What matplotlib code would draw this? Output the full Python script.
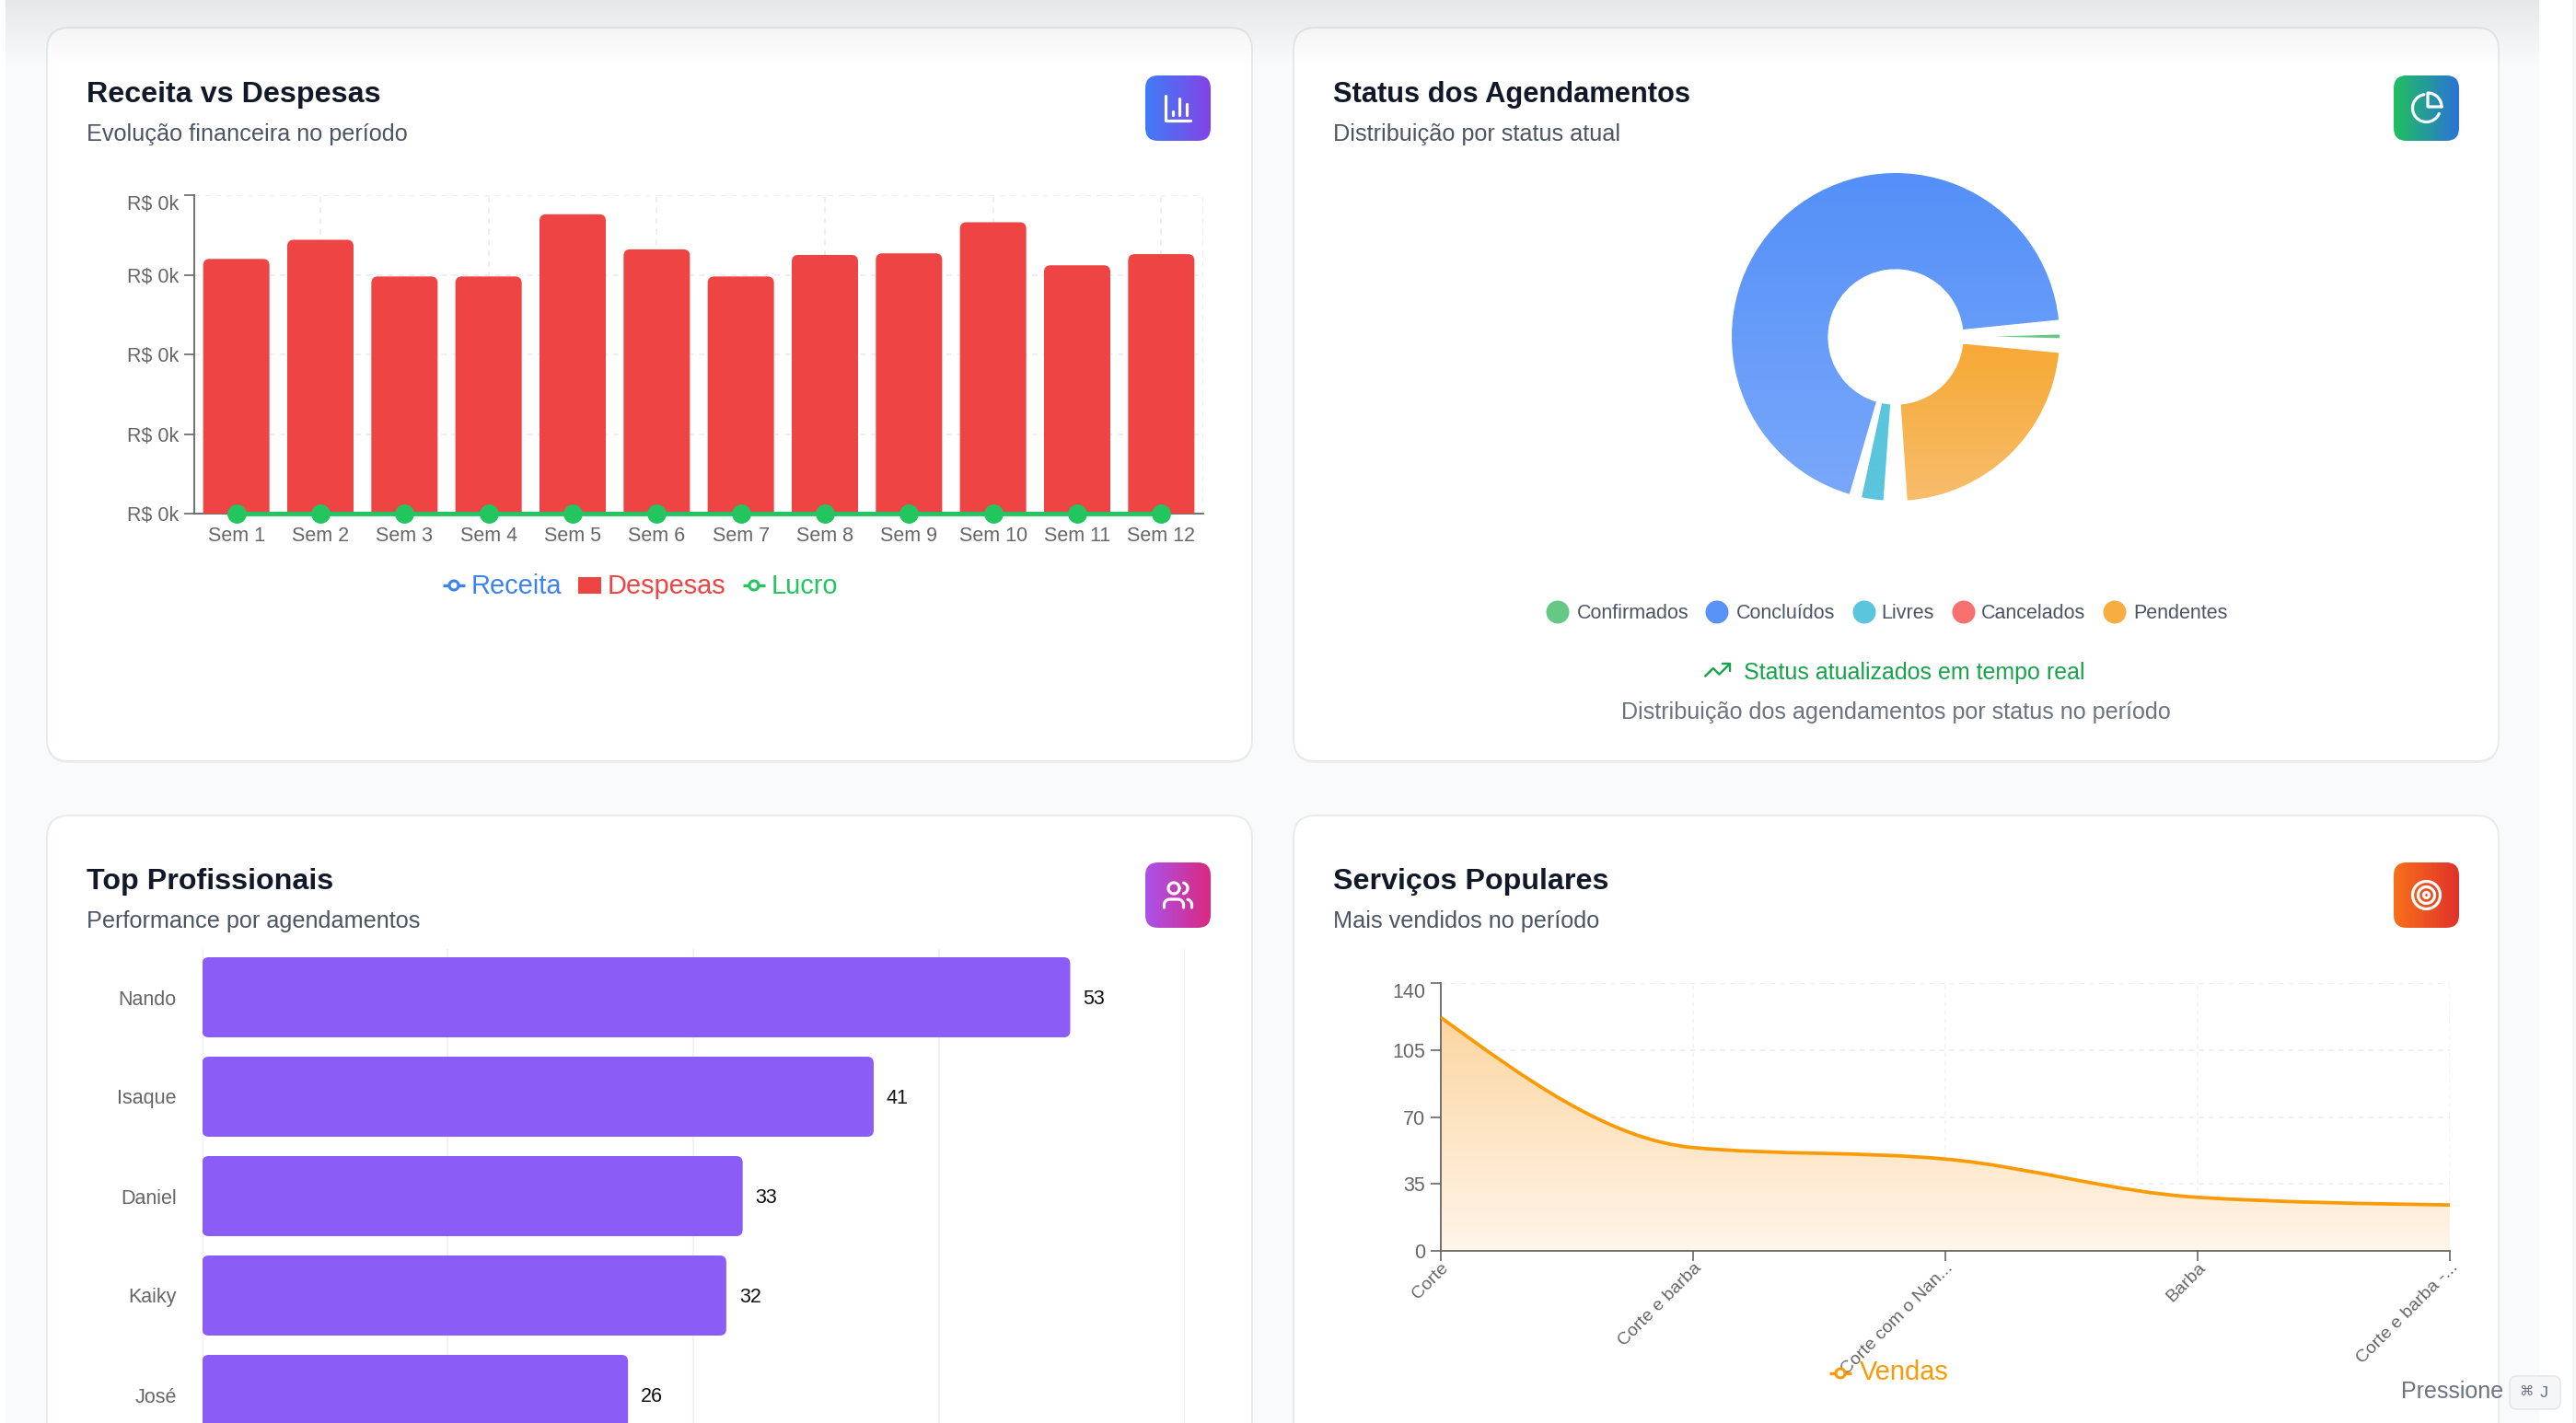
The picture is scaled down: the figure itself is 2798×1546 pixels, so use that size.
import numpy as np
import matplotlib
matplotlib.use("Agg")
import matplotlib.pyplot as plt
from matplotlib.colors import LinearSegmentedColormap
from matplotlib.patches import FancyBboxPatch, Wedge, PathPatch, Circle, Rectangle
from matplotlib.path import Path
from matplotlib.ticker import FuncFormatter, FixedLocator

plt.rcParams['font.family'] = ['Liberation Sans', 'DejaVu Sans']

W, H = 2798, 1546

# Receita vs Despesas
weeks = ['Sem 1', 'Sem 2', 'Sem 3', 'Sem 4', 'Sem 5', 'Sem 6',
         'Sem 7', 'Sem 8', 'Sem 9', 'Sem 10', 'Sem 11', 'Sem 12']
despesas = [320, 344, 298, 298, 376, 332, 298, 325, 327, 366, 312, 326]
receita = [0] * 12
lucro = [0] * 12

# Status dos Agendamentos
status_names = ['Confirmados', 'Concluídos', 'Livres', 'Cancelados', 'Pendentes']
status_values = [3.2, 249.0, 8.1, 0, 81]
status_colors = ['#65c985', '#5a93f8', '#5ac5dd', '#f87171', '#f7ad42']

# Top Profissionais
pros = ['Nando', 'Isaque', 'Daniel', 'Kaiky', 'José']
pro_values = [53, 41, 33, 32, 26]

# Serviços Populares
services = ['Corte', 'Corte e barba', 'Corte com o Nan...', 'Barba', 'Corte e barba -...']
sales = [122, 54, 48, 28, 24]

TICK = '#666666'
GRID = '#eeeeee'
ORANGE = '#fa9a05'
TXT_TITLE = '#111827'
TXT_SUB = '#4b5563'

fig = plt.figure(figsize=(W / 100, H / 100), dpi=100, facecolor='white')


def axes_px(x0, y0, x1, y1, z=1):
    ax = fig.add_axes([x0 / W, 1 - y1 / H, (x1 - x0) / W, (y1 - y0) / H], zorder=z)
    ax.patch.set_visible(False)
    return ax


def gradient(ax, extent, c0, c1, clip=None, vertical=False, z=2):
    # extent is left, right, top, bottom as seen on screen
    cmap = LinearSegmentedColormap.from_list('g', [c0, c1])
    ramp = np.linspace(0, 1, 256)
    ramp = ramp[:, None] if vertical else ramp[None, :]
    x0, x1, top, bottom = extent
    im = ax.imshow(ramp, cmap=cmap, extent=(x0, x1, bottom, top), origin='upper', aspect='auto',
                   interpolation='bilinear', zorder=z)
    if clip is not None:
        im.set_clip_path(clip)
    return im


# page, cards and text live in pixel coordinates
bg = axes_px(0, 0, W, H, z=0)
bg.set_xlim(0, W)
bg.set_ylim(H, 0)
bg.set_autoscale_on(False)
bg.axis('off')
bg.add_patch(Rectangle((6, 0), 2752, H, fc='#f9fafb', ec='none', zorder=0))
bg.add_patch(Rectangle((2794, 0), 4, H, fc='#f4f5f6', ec='none', zorder=0))

for x0, y0, x1, y1 in [(51, 30, 1360, 827), (1405, 30, 2714, 827),
                       (51, 886, 1360, 1640), (1405, 886, 2714, 1640)]:
    # soft shadow first, then the card itself
    bg.add_patch(FancyBboxPatch((x0, y0 + 2), x1 - x0, y1 - y0, boxstyle='round,pad=0,rounding_size=24',
                                fc='#eceef1', ec='none', zorder=1))
    bg.add_patch(FancyBboxPatch((x0, y0), x1 - x0, y1 - y0, boxstyle='round,pad=0,rounding_size=24',
                                fc='white', ec='#e8eaed', lw=1.4, zorder=1))

heads = [(94, 103, 146, 'Receita vs Despesas', 'Evolução financeira no período', 23.2),
         (1448, 103, 146, 'Status dos Agendamentos', 'Distribuição por status atual', 22.2),
         (94, 958, 1001, 'Top Profissionais', 'Performance por agendamentos', 23.2),
         (1448, 958, 1001, 'Serviços Populares', 'Mais vendidos no período', 23.2)]
for x, yt, ys, title, sub, size in heads:
    bg.text(x, yt, title, fontsize=size, fontweight='bold', color=TXT_TITLE, va='center', ha='left')
    bg.text(x, ys, sub, fontsize=18.2, color=TXT_SUB, va='center', ha='left')


# overlay for legends, icons and the top shadow
ov = axes_px(0, 0, W, H, z=5)
ov.set_xlim(0, W)
ov.set_ylim(H, 0)
ov.set_autoscale_on(False)
ov.axis('off')


def icon_base(x, y, c0, c1):
    box = FancyBboxPatch((x, y), 71, 71, boxstyle='round,pad=0,rounding_size=14', fc='none', ec='none')
    ov.add_patch(box)
    gradient(ov, (x, x + 71, y, y + 71), c0, c1, clip=box)


def arc(cx, cy, r, a0, a1, n=40):
    a = np.radians(np.linspace(a0, a1, n))
    return list(zip(cx + r * np.cos(a), cy + r * np.sin(a)))


def stroke(pts, x, y, s=1.5, color='white', lw=2.3):
    # pts on a 24 unit icon grid, x/y is the grid origin
    p = np.array(pts)
    ov.plot(x + p[:, 0] * s, y + p[:, 1] * s, color=color, lw=lw, solid_capstyle='round',
            solid_joinstyle='round', zorder=6)


ICON = 18  # inset of the 36 px glyph inside the 71 px badge
icon_base(1244, 82, '#3f7cf6', '#8344e6')
ix, iy = 1244 + ICON - 0.5, 82 + ICON - 0.5
stroke([(3, 3), (3, 21), (21, 21)], ix, iy)
stroke([(8, 14), (8, 17)], ix, iy)
stroke([(13, 5), (13, 17)], ix, iy)
stroke([(18, 9), (18, 17)], ix, iy)

icon_base(2600, 82, '#20c05f', '#2b72d8')
ix, iy = 2600 + ICON - 0.5, 82 + ICON - 0.5
stroke(arc(12, 12, 10, 23, 260), ix, iy)
stroke(arc(12, 12, 10, 0, -90) + [(12, 12), (22, 12)], ix + 1.5, iy - 1.5)

icon_base(1244, 937, '#ab52ec', '#d9297f')
ix, iy = 1244 + ICON - 0.5, 937 + ICON - 0.5
stroke([(16, 21)] + arc(12, 19, 4, 0, -90) + arc(6, 19, 4, -90, -180) + [(2, 21)], ix, iy)
stroke(arc(9, 7, 4, 0, 360), ix, iy)
stroke([(22, 21)] + arc(18, 19, 4, 0, -75), ix, iy)
stroke(arc(15, 7, 4, -75, 75), ix, iy)

icon_base(2600, 937, '#f8701b', '#e0322a')
ix, iy = 2600 + ICON - 0.5, 937 + ICON - 0.5
for r in (10, 6, 2):
    stroke(arc(12, 12, r, 0, 360), ix, iy)


def line_key(x, y, color):
    ov.plot([x, x + 24], [y, y], color=color, lw=2.4, zorder=6, solid_capstyle='butt')
    ov.add_patch(Circle((x + 12, y), 5, fc='white', ec=color, lw=2.2, zorder=7))


# ---- Receita vs Despesas
ax = axes_px(211, 212, 1307, 558.5)
ax.set_xlim(-0.5, 11.5)
ax.set_ylim(0, 400)
ppx = 12 / (1307 - 211)     # data x per pixel
ppy = 400 / (558.5 - 212)   # data y per pixel
bar_w = 72 * ppx
for i, v in enumerate(despesas):
    # rounded bottom falls below the axis and gets clipped away
    ax.add_patch(FancyBboxPatch((i - bar_w / 2, -40), bar_w, v + 40,
                                boxstyle=f'round,pad=0,rounding_size={7 * ppx}',
                                mutation_aspect=ppy / ppx, fc='#ef4444', ec='none', zorder=3))
ax.plot(range(12), receita, color='#3b82f6', lw=3, zorder=4, clip_on=False)
ax.plot(range(12), lucro, color='#22c55e', lw=3.5, marker='o', ms=14, zorder=5, clip_on=False)
ax.set_yticks([0, 100, 200, 300, 400])
ax.yaxis.set_major_formatter(FuncFormatter(lambda v, p: f'R$ {v / 1000:.0f}k'))
ax.set_xticks(range(12))
ax.set_xticklabels(weeks)
ax.yaxis.grid(True, color=GRID, ls=(0, (3, 3)), lw=1.4, zorder=0)
# vertical grid only shows on every other week
for gx in list(range(1, 12, 2)) + [11.5]:
    ax.axvline(gx, color=GRID, ls=(0, (3, 3)), lw=1.4, zorder=0)
ax.set_axisbelow(True)
for s in ('top', 'right'):
    ax.spines[s].set_visible(False)
for s in ('left', 'bottom'):
    ax.spines[s].set_color(TICK)
    ax.spines[s].set_linewidth(1.3)
ax.tick_params(axis='both', colors=TICK, labelsize=15.5, length=8, width=1.2, pad=4)
ax.tick_params(axis='x', length=6, pad=4, labelcolor='#666666')
ax.get_yticklabels()[-1].set_verticalalignment('top')

line_key(481, 636, '#3b82f6')
ov.text(512, 637, 'Receita', fontsize=20.9, color='#3b82f6', va='center')
ov.add_patch(Rectangle((628, 627), 25, 18, fc='#ef4444', ec='none', zorder=6))
ov.text(660, 637, 'Despesas', fontsize=20.9, color='#ef4444', va='center')
line_key(807, 636, '#22c55e')
ov.text(838, 637, 'Lucro', fontsize=20.9, color='#22c55e', va='center')

# ---- Status dos Agendamentos
pie = axes_px(1859, 166, 2259, 566)
pie.set_xlim(-200, 200)
pie.set_ylim(-200, 200)
pie.set_autoscale_on(False)
pie.axis('off')
R_OUT, R_IN = 178, 73
PAD = 4.0
scale = (360 - PAD * len(status_values)) / sum(status_values)
angle = -1.4
wedge_grad = {1: ('#5490f8', '#7aa8fb', 178, -178),
              2: ('#5ac5dd', '#5ac5dd', -60, -178),
              4: ('#f6a935', '#f8bd6c', -8, -178)}
for i, v in enumerate(status_values):
    sweep = v * scale
    if v > 0:
        w = Wedge((0, 0), R_OUT, angle, angle + sweep, width=R_OUT - R_IN, fc='none', ec='none')
        pie.add_patch(w)
        if i in wedge_grad:
            c0, c1, top, bottom = wedge_grad[i]
            gradient(pie, (-200, 200, top, bottom), c0, c1, clip=w, vertical=True)
        else:
            w.set_facecolor(status_colors[i])
        # the sliver keeps only its outer tip once the white stroke is on it
        pie.add_patch(Wedge((0, 0), R_OUT + 3, angle, angle + sweep, width=R_OUT + 3 - R_IN,
                            fc='none', ec='white', lw=4.3 if i == 0 else 0.9, zorder=4))
    angle += sweep + PAD

key_x = [1692, 1865, 2025, 2133, 2297]
label_x = [1713, 1886, 2043, 2152, 2317]
for name, color, kx, lx in zip(status_names, status_colors, key_x, label_x):
    ov.add_patch(Circle((kx, 665), 12.5, fc=color, ec='none', zorder=6))
    ov.text(lx, 667, name, fontsize=15.5, color='#4b5563', va='center')

p = [(2, 17), (8.5, 10.5), (13.5, 15.5), (22, 7)]
stroke(p, 1849.5, 712, s=1.33, color='#16a34a', lw=1.7)
stroke([(16, 7), (22, 7), (22, 13)], 1849.5, 712, s=1.33, color='#16a34a', lw=1.7)
ov.text(1894, 731, 'Status atualizados em tempo real', fontsize=18, color='#16a34a', va='center')
ov.text(2059, 774, 'Distribuição dos agendamentos por status no período', fontsize=18.1,
        color='#6b7280', va='center', ha='center')

# ---- Top Profissionais
ax3 = axes_px(219.6, 1030.6, 1287, 1546)
ax3.set_xlim(0, 60)
pitch = 108.0
ax3.set_ylim((1546 - 1083.5) / pitch, (1030.6 - 1083.5) / pitch)
ax3.set_autoscale_on(False)
qx = 60 / (1287 - 219.6)
qy = 1 / pitch
bh = 87 * qy
for i, v in enumerate(pro_values):
    ax3.add_patch(FancyBboxPatch((0, i - bh / 2), v, bh, boxstyle=f'round,pad=0,rounding_size={7 * qx}',
                                 mutation_aspect=qy / qx, fc='#8b5cf6', ec='none', zorder=3))
    ax3.annotate(str(v), (v, i), xytext=(14, -2), textcoords='offset pixels', va='center', ha='left',
                 fontsize=15.5, color='#111111', zorder=4)
ax3.set_xticks([0, 15, 30, 45, 60])
ax3.tick_params(axis='x', length=0, labelbottom=False)
ax3.xaxis.grid(True, color='#f1f2f4', lw=1.5, zorder=0)
ax3.set_axisbelow(True)
ax3.set_yticks(range(len(pros)))
ax3.set_yticklabels(pros)
ax3.tick_params(axis='y', length=0, pad=20, labelsize=15.5, labelcolor='#666666')
for s in ax3.spines.values():
    s.set_visible(False)


def monotone_path(xs, ys):
    # same curve as a monotone-x line: cubic segments with limited slopes
    xs, ys = np.array(xs, float), np.array(ys, float)
    h = np.diff(xs)
    sl = np.diff(ys) / h
    t = np.zeros(len(xs))
    for k in range(1, len(xs) - 1):
        q = (sl[k - 1] * h[k] + sl[k] * h[k - 1]) / (h[k - 1] + h[k])
        t[k] = (np.sign(sl[k - 1]) + np.sign(sl[k])) * min(abs(sl[k - 1]), abs(sl[k]), 0.5 * abs(q))
    t[0] = (3 * sl[0] - t[1]) / 2
    t[-1] = (3 * sl[-1] - t[-2]) / 2
    verts, codes = [(xs[0], ys[0])], [Path.MOVETO]
    for k in range(len(xs) - 1):
        d = h[k] / 3
        verts += [(xs[k] + d, ys[k] + d * t[k]), (xs[k + 1] - d, ys[k + 1] - d * t[k + 1]), (xs[k + 1], ys[k + 1])]
        codes += [Path.CURVE4] * 3
    return verts, codes


# ---- Serviços Populares
ax4 = axes_px(1565, 1068, 2661, 1359)
ax4.set_xlim(0, 4)
ax4.set_ylim(0, 140)
ax4.set_autoscale_on(False)
vv, cc = monotone_path(range(5), sales)
area = PathPatch(Path(vv + [(4, 0), (0, 0), (0, sales[0])], cc + [Path.LINETO, Path.LINETO, Path.CLOSEPOLY]),
                 fc='none', ec='none')
ax4.add_patch(area)
gradient(ax4, (0, 4, 122, 0), '#fcd6a2', '#fff5e9', clip=area, vertical=True, z=1)
ax4.add_patch(PathPatch(Path(vv, cc), fc='none', ec=ORANGE, lw=2.7, zorder=3, capstyle='butt'))
ax4.set_yticks([0, 35, 70, 105, 140])
ax4.xaxis.set_major_locator(FixedLocator(range(5)))
ax4.set_xticklabels(services, rotation=45, ha='right', va='top', rotation_mode='anchor')
ax4.yaxis.grid(True, color=GRID, ls=(0, (3, 3)), lw=1.3, zorder=0)
ax4.xaxis.grid(True, color='#f3f3f3', ls=(0, (3, 3)), lw=1.1, zorder=0)
ax4.set_axisbelow(True)
ax4.axhline(140, color=GRID, ls=(0, (3, 3)), lw=1.3, zorder=0)
ax4.axvline(4, color='#f3f3f3', ls=(0, (3, 3)), lw=1.1, zorder=0)
for s in ('top', 'right'):
    ax4.spines[s].set_visible(False)
for s in ('left', 'bottom'):
    ax4.spines[s].set_color(TICK)
    ax4.spines[s].set_linewidth(1.3)
ax4.tick_params(axis='both', colors=TICK, labelsize=15.5, length=8, width=1.2, pad=4)
ax4.tick_params(axis='x', length=8, pad=-1, labelsize=14, labelcolor='#666666')
ax4.get_yticklabels()[-1].set_verticalalignment('top')

line_key(1987, 1492, ORANGE)
ov.text(2020, 1491, 'Vendas', fontsize=20.9, color=ORANGE, va='center')

# floating hint in the corner
ov.text(2608, 1512, 'Pressione', fontsize=18, color='#6b7280', va='center')
ov.add_patch(FancyBboxPatch((2726, 1495), 55, 36, boxstyle='round,pad=0,rounding_size=8',
                            fc='#f5f6f7', ec='#e5e7eb', lw=1.2, zorder=6))
ov.text(2744, 1511, '⌘', fontsize=11, color='#6b7280', va='center', ha='center', zorder=7,
        family='DejaVu Sans')
ov.text(2763, 1513, 'J', fontsize=13, color='#6b7280', va='center', ha='center', zorder=7,
        family='Liberation Mono')

# top edge shadow drawn over page and cards
shade = np.zeros((128, 1, 4))
shade[:, 0, 3] = np.linspace(0.10, 0, 128) ** 1.1
ov.imshow(shade, extent=(6, 2758, 75, 0), aspect='auto', interpolation='bilinear', zorder=1)

fig.savefig('out.png', dpi=100)
